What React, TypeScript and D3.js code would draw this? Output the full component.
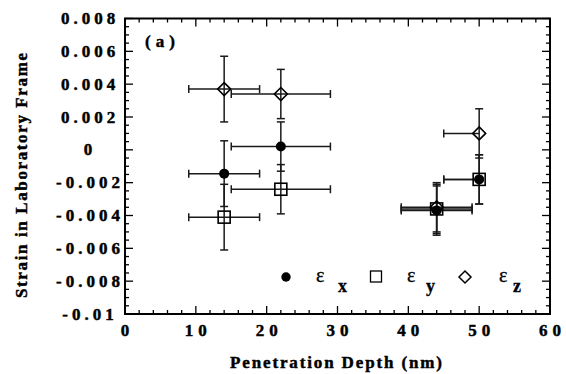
import React from "react";
import * as d3 from "d3";

const depth = [14, 22, 44, 50];
const strainX = [-0.00145, 0.0002, -0.0037, -0.0018];
const strainY = [-0.0041, -0.0024, -0.0036, -0.0018];
const strainZ = [0.0037, 0.0034, -0.0035, 0.001];
const strainErr = [0.002, 0.0015, 0.0015, 0.0015];
const depthErrLow = [5, 7, 5, 5];
const depthErrHigh = [5, 7, 5, 0];
const xTicks = [0, 10, 20, 30, 40, 50, 60];
const yTicks = [0.008, 0.006, 0.004, 0.002, 0, -0.002, -0.004, -0.006, -0.008, -0.01];
const yTickLabels = ["0.008", "0.006", "0.004", "0.002", "0", "-0.002", "-0.004", "-0.006", "-0.008", "-0.01"];

const W = 566, H = 374;
const L = 125, R = 550, T = 18.5, B = 314;
const FONT = "\"Liberation Serif\", \"Times New Roman\", \"DejaVu Serif\", serif";
const tf: React.CSSProperties = { fontFamily: FONT };
const heavy = { stroke: "#000", strokeWidth: 0.45 };

export default function App() {
  const x = d3.scaleLinear().domain([0, 60]).range([L, R]);
  const y = d3.scaleLinear().domain([-0.01, 0.008]).range([B, T]);
  const xMinor = d3.range(0, 60.001, 2);
  const yMinor = d3.range(-0.01, 0.008001, 0.0005);
  const ink = "#1a1a1a";

  const errBars = (vals: number[], key: string) =>
    depth.map((d, i) => {
      const cx = x(d), cy = y(vals[i]);
      const x0 = x(d - depthErrLow[i]), x1 = x(d + depthErrHigh[i]);
      const y0 = y(vals[i] + strainErr[i]), y1 = y(vals[i] - strainErr[i]);
      return (
        <g key={key + i} stroke={ink} strokeWidth={1.5} fill="none">
          <line x1={x0} x2={x1} y1={cy} y2={cy} />
          <line x1={x0} x2={x0} y1={cy - 4} y2={cy + 4} />
          {depthErrHigh[i] > 0 && <line x1={x1} x2={x1} y1={cy - 4} y2={cy + 4} />}
          <line x1={cx} x2={cx} y1={y0} y2={y1} />
          <line x1={cx - 4} x2={cx + 4} y1={y0} y2={y0} />
          <line x1={cx - 4} x2={cx + 4} y1={y1} y2={y1} />
        </g>
      );
    });

  return (
    <svg width={W} height={H} style={{ position: "absolute", left: 0, top: 0, background: "#fff", fontFamily: FONT }}>
      <rect x={0} y={0} width={W} height={H} fill="#fff" />
      {/* ticks */}
      <g stroke="#000" strokeWidth={1.3}>
        {xMinor.map((v) => {
          const major = Math.abs(v % 10) < 1e-9;
          const len = major ? 8 : 4;
          return (
            <g key={"xt" + v}>
              <line x1={x(v)} x2={x(v)} y1={B} y2={B - len} />
              <line x1={x(v)} x2={x(v)} y1={T} y2={T + len} />
            </g>
          );
        })}
        {yMinor.map((v, i) => {
          const major = i % 4 === 0;
          const len = major ? 8 : 4;
          return (
            <g key={"yt" + i}>
              <line x1={L} x2={L + len} y1={y(v)} y2={y(v)} />
              <line x1={R} x2={R - len} y1={y(v)} y2={y(v)} />
            </g>
          );
        })}
      </g>
      <rect x={L} y={T} width={R - L} height={B - T} fill="none" stroke="#000" strokeWidth={2} />

      {/* tick labels */}
      <g fontWeight="bold" fontSize={17} fill="#000" {...heavy}>
        {xTicks.map((v) => (
          <text key={"xl" + v} style={tf} x={x(v) + 2.5} y={336} textAnchor="middle" letterSpacing={5}>
            {String(v)}
          </text>
        ))}
        {yTicks.map((v, i) => (
          <text key={"yl" + i} style={tf} x={90} y={y(v)} textAnchor="middle" dominantBaseline="central" letterSpacing={4}>
            {yTickLabels[i]}
          </text>
        ))}
      </g>

      {/* axis titles */}
      <g fontWeight="bold" fill="#000" {...heavy}>
        <text style={tf} x={336} y={368} textAnchor="middle" fontSize={17} textLength={212}
          lengthAdjust="spacing">Penetration Depth (nm)</text>
        <text style={tf} transform="translate(27,175.5) rotate(-90)" textAnchor="middle" fontSize={17}
          textLength={245} lengthAdjust="spacing">Strain in Laboratory Frame</text>
        <text style={tf} x={145} y={47} fontSize={17} letterSpacing={5}>(a)</text>
      </g>

      {/* error bars */}
      {errBars(strainZ, "ez")}
      {errBars(strainY, "ey")}
      {errBars(strainX, "ex")}

      {/* markers */}
      {depth.map((d, i) => (
        <path key={"dz" + i}
          d={`M${x(d)},${y(strainZ[i]) - 6.5}L${x(d) + 6.5},${y(strainZ[i])}L${x(d)},${y(strainZ[i]) + 6.5}L${x(d) - 6.5},${y(strainZ[i])}Z`}
          fill="none" stroke="#000" strokeWidth={1.6} />
      ))}
      {depth.map((d, i) => (
        <rect key={"sy" + i} x={x(d) - 6} y={y(strainY[i]) - 6} width={12} height={12}
          fill="none" stroke="#000" strokeWidth={1.6} />
      ))}
      {depth.map((d, i) => (
        <circle key={"cx" + i} cx={x(d)} cy={y(strainX[i])} r={5} fill="#000" />
      ))}

      {/* legend */}
      <circle cx={286} cy={277} r={4.7} fill="#000" />
      <rect x={370.5} y={271} width={11} height={11} fill="none" stroke="#000" strokeWidth={1.3} />
      <path d="M465,271L471,277L465,283L459,277Z" fill="none" stroke="#000" strokeWidth={1.5} />
      <g fill="#000" stroke="#000" strokeWidth={0.3}>
        <text style={tf} x={316} y={282} fontSize={20}>ε</text>
        <text style={tf} x={338} y={292} fontSize={18} fontWeight="bold">x</text>
        <text style={tf} x={407} y={282} fontSize={20}>ε</text>
        <text style={tf} x={426} y={292} fontSize={18} fontWeight="bold">y</text>
        <text style={tf} x={499} y={282} fontSize={20}>ε</text>
        <text style={tf} x={513} y={292} fontSize={18} fontWeight="bold">z</text>
      </g>
    </svg>
  );
}
